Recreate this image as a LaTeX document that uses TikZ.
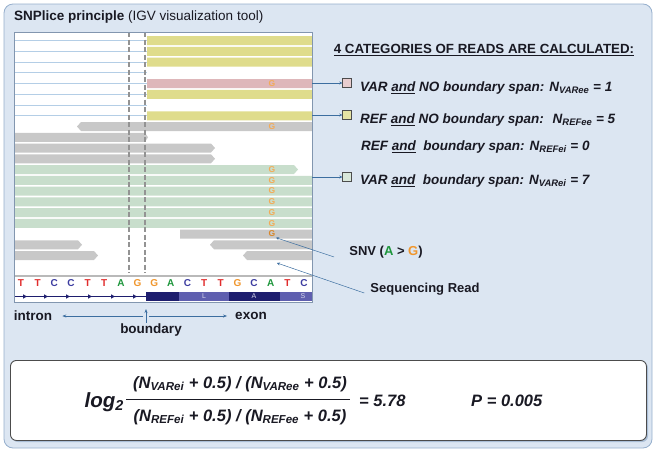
\documentclass[tikz,border=0pt]{standalone}
\usepackage{fontspec}
\setmainfont{Liberation Sans}
\usetikzlibrary{positioning,calc,arrows.meta}

\definecolor{panelbg}{RGB}{220,230,242}
\definecolor{panelbd}{RGB}{150,175,205}
\definecolor{igvframe}{RGB}{130,150,175}
\definecolor{yellowread}{RGB}{223,220,140}
\definecolor{pinkread}{RGB}{222,183,186}
\definecolor{greenread}{RGB}{200,222,204}
\definecolor{greyread}{RGB}{200,200,200}
\definecolor{splice}{RGB}{180,206,230}
\definecolor{snvorange}{RGB}{240,150,45}
\definecolor{snvgreen}{RGB}{30,150,60}
\definecolor{baseTcol}{RGB}{225,45,45}
\definecolor{baseCcol}{RGB}{60,60,160}
\definecolor{linkblue}{RGB}{60,110,160}
\definecolor{navy}{RGB}{30,30,110}
\definecolor{midnavy}{RGB}{95,95,175}
\definecolor{inktext}{RGB}{25,25,35}

\begin{document}
\begin{tikzpicture}[x=1pt, y=-1pt,
    panel/.style={rounded corners=9pt, fill=panelbg, draw=panelbd, line width=0.8pt},
    lbl/.style={font=\bfseries\fontsize{13.5}{15}\selectfont, text=inktext, inner sep=1pt},
    seqbase/.style={font=\bfseries\fontsize{10}{11}\selectfont, inner sep=0.5pt},
    baseA/.style={seqbase, text=snvgreen},
    baseC/.style={seqbase, text=baseCcol},
    baseG/.style={seqbase, text=snvorange},
    baseT/.style={seqbase, text=baseTcol},
    gletter/.style={font=\bfseries\fontsize{8.5}{9}\selectfont, text=snvorange!80!white, inner sep=0.5pt},
    aminoacid/.style={font=\fontsize{7}{8}\selectfont, text=white!75!midnavy, inner sep=0pt},
    boundline/.style={draw=gray!85, line width=1.1pt, dash pattern=on 5pt off 2.5pt},
    cat/.style={anchor=west, font=\bfseries\itshape\fontsize{13.5}{15}\selectfont, text=inktext, inner sep=1pt},
    swatch/.style={draw=gray!60!black, line width=0.4pt, minimum size=9pt, inner sep=0pt},
    lead/.style={draw=linkblue, line width=0.5pt, -{Stealth[length=3pt,width=3pt]}},
    guide/.style={draw=linkblue, line width=0.6pt, -{Stealth[length=4pt,width=3pt]}},
    fml/.style={font=\bfseries\itshape\fontsize{16.5}{18}\selectfont, text=inktext, inner sep=1pt}
  ]
  \useasboundingbox (0,0) rectangle (656,453);
  \draw[panel] (4,4) rectangle (652,448);

  % IGV panel
  \node[anchor=west, font=\fontsize{13.5}{15}\selectfont, text=inktext, inner sep=0pt] (title) at (14,17)
    {\textbf{SNPlice principle} (IGV visualization tool)};
  \node[draw=igvframe, fill=white, anchor=north west, minimum width=298pt, minimum height=270pt, inner sep=0pt] (igv) at (14,32) {};

  \foreach \r in {1,...,8}
    \draw[splice, line width=0.8pt] (14,40.5+10.75*\r-10.75) -- (147,40.5+10.75*\r-10.75);

  % reads: row / start / end / left tip / right tip / colour
  \foreach \r/\xa/\xb/\tipl/\tipr/\rc in {
      1/147/312/0/0/yellowread, 2/147/312/0/0/yellowread, 3/147/312/0/0/yellowread,
      5/147/312/0/0/pinkread, 6/147/312/0/0/yellowread, 8/147/312/0/0/yellowread,
      9/77/312/4/0/greyread, 10/14/148/0/3/greyread, 11/14/215/0/4/greyread,
      12/14/215/0/4/greyread, 13/14/298/0/4/greenread, 14/14/312/0/0/greenread,
      15/14/312/0/0/greenread, 16/14/312/0/0/greenread, 17/14/312/0/0/greenread,
      18/14/312/0/0/greenread, 19/180/312/0/0/greyread, 20/210/312/4/0/greyread,
      20/14/82/0/4/greyread, 21/243/312/4/0/greyread, 21/14/98/0/4/greyread} {
    \pgfmathsetmacro\yt{36+10.75*(\r-1)}
    \fill[\rc] (\xa+\tipl,\yt) -- (\xb-\tipr,\yt) -- (\xb,\yt+4.5) -- (\xb-\tipr,\yt+9)
      -- (\xa+\tipl,\yt+9) -- (\xa,\yt+4.5) -- cycle;
  }
  \foreach \r in {5,9,13,14,15,16,17,18}
    \node[gletter] (g\r) at (272,40.5+10.75*\r-10.75) {G};
  \node[gletter, text=snvorange!90!black] (g19) at (272,234) {G};

  \draw[boundline] (129,32) -- (129,273);
  \draw[boundline] (145,32) -- (145,273);
  \draw[gray!55, line width=2pt] (14,275.5) -- (312,275.5);

  % reference sequence and translation
  \foreach \b [count=\i] in {T,T,C,C,T,T,A,G,G,A,C,T,T,G,C,A,T,C}
    \node[base\b] (s\i) at (21+16.65*\i-16.65,283.5) {\b};
  \draw[navy, line width=0.8pt] (14,296.5) -- (146,296.5);
  \foreach \x in {25,46,68,90,113,135}
    \fill[navy] (\x-2,294.3) -- (\x+2,296.5) -- (\x-2,298.7) -- cycle;
  \fill[navy] (146,292) rectangle (312,301);
  \fill[midnavy] (179,292) rectangle (229,301);
  \fill[midnavy] (280,292) rectangle (312,301);
  \foreach \a/\x in {L/204,A/254,S/303}
    \node[aminoacid] (aa\a) at (\x,296.5) {\a};
  \draw[igvframe, line width=0.6pt] (igv.north west) rectangle (igv.south east);

  % intron / exon boundary
  \node[lbl] (intron) at (33,316) {intron};
  \node[lbl] (exon) at (251,316) {exon};
  \node[lbl] (boundary) at (151,330) {boundary};
  \coordinate (bnd) at (146,316);
  \draw[guide] ([xshift=-3pt]bnd) -- ([xshift=9pt]intron.east);
  \draw[guide] ([xshift=3pt]bnd) -- ([xshift=-7pt]exon.west);
  \draw[guide] (boundary.north -| bnd) -- (146,309);

  % categories
  \node[font=\bfseries\fontsize{13.3}{15}\selectfont, text=inktext] (cats) at (484,50)
    {\underline{4 CATEGORIES OF READS ARE CALCULATED:}};
  \node[cat] (varee) at (359,88) {VAR \underline{and} NO boundary span: N\textsubscript{VARee} = 1};
  \node[cat] (refee) at (359,120) {REF \underline{and} NO boundary span: \ N\textsubscript{REFee} = 5};
  \node[cat] (refei) at (360,147) {REF \underline{and} \ boundary span: N\textsubscript{REFei} = 0};
  \node[cat] (varei) at (359,181) {VAR \underline{and} \ boundary span: N\textsubscript{VARei} = 7};
  \node[swatch, fill=pinkread!70!white] (swvaree) at (347,83) {};
  \node[swatch, fill=yellowread!80!white] (swrefee) at (347,115) {};
  \node[swatch, fill=greenread!70!white] (swvarei) at (347,177) {};
  \draw[lead] (igv.east |- swvaree) -- (swvaree.west);
  \draw[lead] (igv.east |- swrefee) -- (swrefee.west);
  \draw[lead] (igv.east |- swvarei) -- (swvarei.west);

  % annotations
  \node[lbl, font=\bfseries\fontsize{13}{15}\selectfont] (snv) at (386,252)
    {SNV ({\color{snvgreen}A} > {\color{snvorange}G})};
  \node[lbl, font=\bfseries\fontsize{13}{15}\selectfont] (seqread) at (425,289) {Sequencing Read};
  \coordinate (readpt) at (277,263);
  \draw[lead] ([xshift=-14pt,yshift=-5pt]snv.west) -- (g19.south east);
  \draw[lead] ([xshift=-5pt,yshift=-4pt]seqread.west) -- (readpt);

  % formula
  \fill[panelbd!80, rounded corners=6pt] (12,362) rectangle (648,442);
  \node[draw=gray!60!black, fill=white, rounded corners=6pt, line width=0.9pt, anchor=north west,
    minimum width=636pt, minimum height=80pt] (fbox) at (10,360) {};
  \node[fml, font=\bfseries\itshape\fontsize{20.5}{22}\selectfont, anchor=east] (logtwo) at (125,402) {log\textsubscript{2}};
  \node[fml] (num) at (240,384) {(N\textsubscript{VARei} + 0.5) / (N\textsubscript{VARee} + 0.5)};
  \node[fml] (den) at (240,417) {(N\textsubscript{REFei} + 0.5) / (N\textsubscript{REFee} + 0.5)};
  \draw[inktext, line width=0.9pt] (126,399) -- (350,399);
  \node[fml, anchor=west] (res) at (358,401) {= 5.78};
  \node[fml, anchor=west] (pval) at (470,401) {P = 0.005};
\end{tikzpicture}
\end{document}
